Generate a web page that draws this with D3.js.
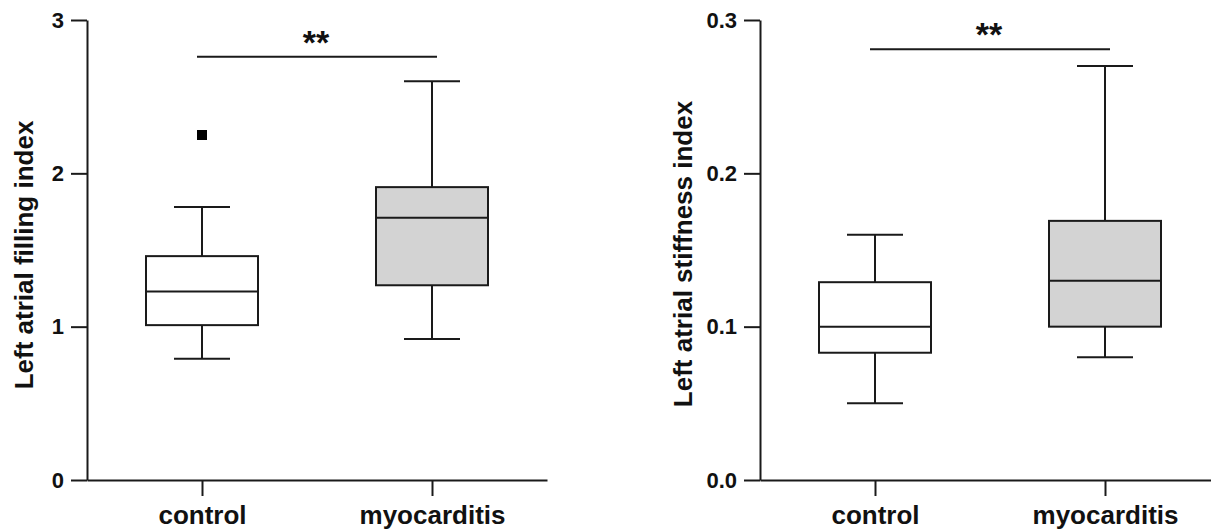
<!DOCTYPE html>
<meta charset="utf-8">
<head>
  <script src="https://d3js.org/d3.v7.min.js"></script>
  <style>
    body { margin: 0; background: #fff; }
    svg text { font-family: "Liberation Sans", Arial, sans-serif; font-weight: bold; fill: #111; }
  </style>
</head>
<body>
  <svg id="chart" width="1211" height="531"></svg>
  <script>
    // categories
    var groups = ["control", "myocarditis"];
    var groupFills = ["#ffffff", "#d3d3d3"];

    // left panel: filling index (min, q1, median, q3, max)
    var fillingMin = [0.79, 0.92];
    var fillingQ1 = [1.01, 1.27];
    var fillingMedian = [1.23, 1.71];
    var fillingQ3 = [1.46, 1.91];
    var fillingMax = [1.78, 2.60];
    var fillingOutliers = [[2.25], []];
    var fillingTicks = [0, 1, 2, 3];

    // right panel: stiffness index
    var stiffMin = [0.050, 0.080];
    var stiffQ1 = [0.083, 0.100];
    var stiffMedian = [0.100, 0.130];
    var stiffQ3 = [0.129, 0.169];
    var stiffMax = [0.160, 0.270];
    var stiffOutliers = [[], []];
    var stiffTicks = [0, 0.1, 0.2, 0.3];

    var svg = d3.select("#chart");
    var ink = "#1a1a1a";

    function drawPanel(opt) {
      var g = svg.append("g");
      var x = d3.scalePoint().domain(groups).range([opt.left, opt.left + 460]).padding(0.5);
      var y = d3.scaleLinear().domain([0, opt.max]).range([480, 20]);
      var boxW = 112;

      // axes
      var yAxis = g.append("g")
        .attr("transform", "translate(" + opt.left + ",0)")
        .call(d3.axisLeft(y).tickValues(opt.ticks).tickFormat(d3.format(opt.fmt))
          .tickSize(16).tickSizeOuter(0).tickPadding(7));
      yAxis.selectAll("text").style("font-size", "22px");

      var xAxis = g.append("g")
        .attr("transform", "translate(0,480)")
        .call(d3.axisBottom(x).tickSize(16).tickSizeOuter(0).tickPadding(10));
      xAxis.selectAll("text").style("font-size", "26px");

      g.selectAll(".domain, .tick line").attr("stroke", ink).attr("stroke-width", 2);

      // y label
      g.append("text")
        .attr("transform", "translate(" + opt.labelX + "," + opt.labelY + ") rotate(-90)")
        .attr("text-anchor", "middle")
        .style("font-size", "26px")
        .text(opt.label);

      var idx = d3.range(groups.length);
      var boxes = g.selectAll(".box").data(idx).enter().append("g");

      // whiskers
      boxes.append("line")
        .attr("x1", function(i) { return x(groups[i]); })
        .attr("x2", function(i) { return x(groups[i]); })
        .attr("y1", function(i) { return y(opt.mins[i]); })
        .attr("y2", function(i) { return y(opt.maxs[i]); })
        .attr("stroke", ink).attr("stroke-width", 2);
      [opt.mins, opt.maxs].forEach(function(arr) {
        boxes.append("line")
          .attr("x1", function(i) { return x(groups[i]) - boxW / 4; })
          .attr("x2", function(i) { return x(groups[i]) + boxW / 4; })
          .attr("y1", function(i) { return y(arr[i]); })
          .attr("y2", function(i) { return y(arr[i]); })
          .attr("stroke", ink).attr("stroke-width", 2);
      });

      boxes.append("rect")
        .attr("x", function(i) { return x(groups[i]) - boxW / 2; })
        .attr("width", boxW)
        .attr("y", function(i) { return y(opt.q3[i]); })
        .attr("height", function(i) { return y(opt.q1[i]) - y(opt.q3[i]); })
        .attr("fill", function(i) { return groupFills[i]; })
        .attr("stroke", ink).attr("stroke-width", 2);

      boxes.append("line")
        .attr("x1", function(i) { return x(groups[i]) - boxW / 2; })
        .attr("x2", function(i) { return x(groups[i]) + boxW / 2; })
        .attr("y1", function(i) { return y(opt.med[i]); })
        .attr("y2", function(i) { return y(opt.med[i]); })
        .attr("stroke", ink).attr("stroke-width", 2);

      // outliers
      idx.forEach(function(i) {
        g.selectAll(null).data(opt.outliers[i]).enter().append("rect")
          .attr("x", x(groups[i]) - 5)
          .attr("y", function(d) { return y(d) - 5; })
          .attr("width", 10).attr("height", 10)
          .attr("fill", "#000");
      });

      // significance bar
      g.append("line")
        .attr("x1", x(groups[0]) - 5).attr("x2", x(groups[1]) + 5)
        .attr("y1", y(opt.sig)).attr("y2", y(opt.sig))
        .attr("stroke", ink).attr("stroke-width", 2);
      g.append("text")
        .attr("x", (x(groups[0]) + x(groups[1])) / 2 - 1)
        .attr("y", y(opt.sig) - 3)
        .attr("text-anchor", "middle")
        .style("font-size", "34px")
        .text("**");
    }

    drawPanel({
      left: 87, max: 3, ticks: fillingTicks, fmt: "d",
      mins: fillingMin, q1: fillingQ1, med: fillingMedian, q3: fillingQ3, maxs: fillingMax,
      outliers: fillingOutliers, sig: 2.76,
      label: "Left atrial filling index", labelX: 33, labelY: 255
    });
    drawPanel({
      left: 760, max: 0.3, ticks: stiffTicks, fmt: ".1f",
      mins: stiffMin, q1: stiffQ1, med: stiffMedian, q3: stiffQ3, maxs: stiffMax,
      outliers: stiffOutliers, sig: 0.281,
      label: "Left atrial stiffness index", labelX: 692, labelY: 254
    });
  </script>
</body>
</html>
